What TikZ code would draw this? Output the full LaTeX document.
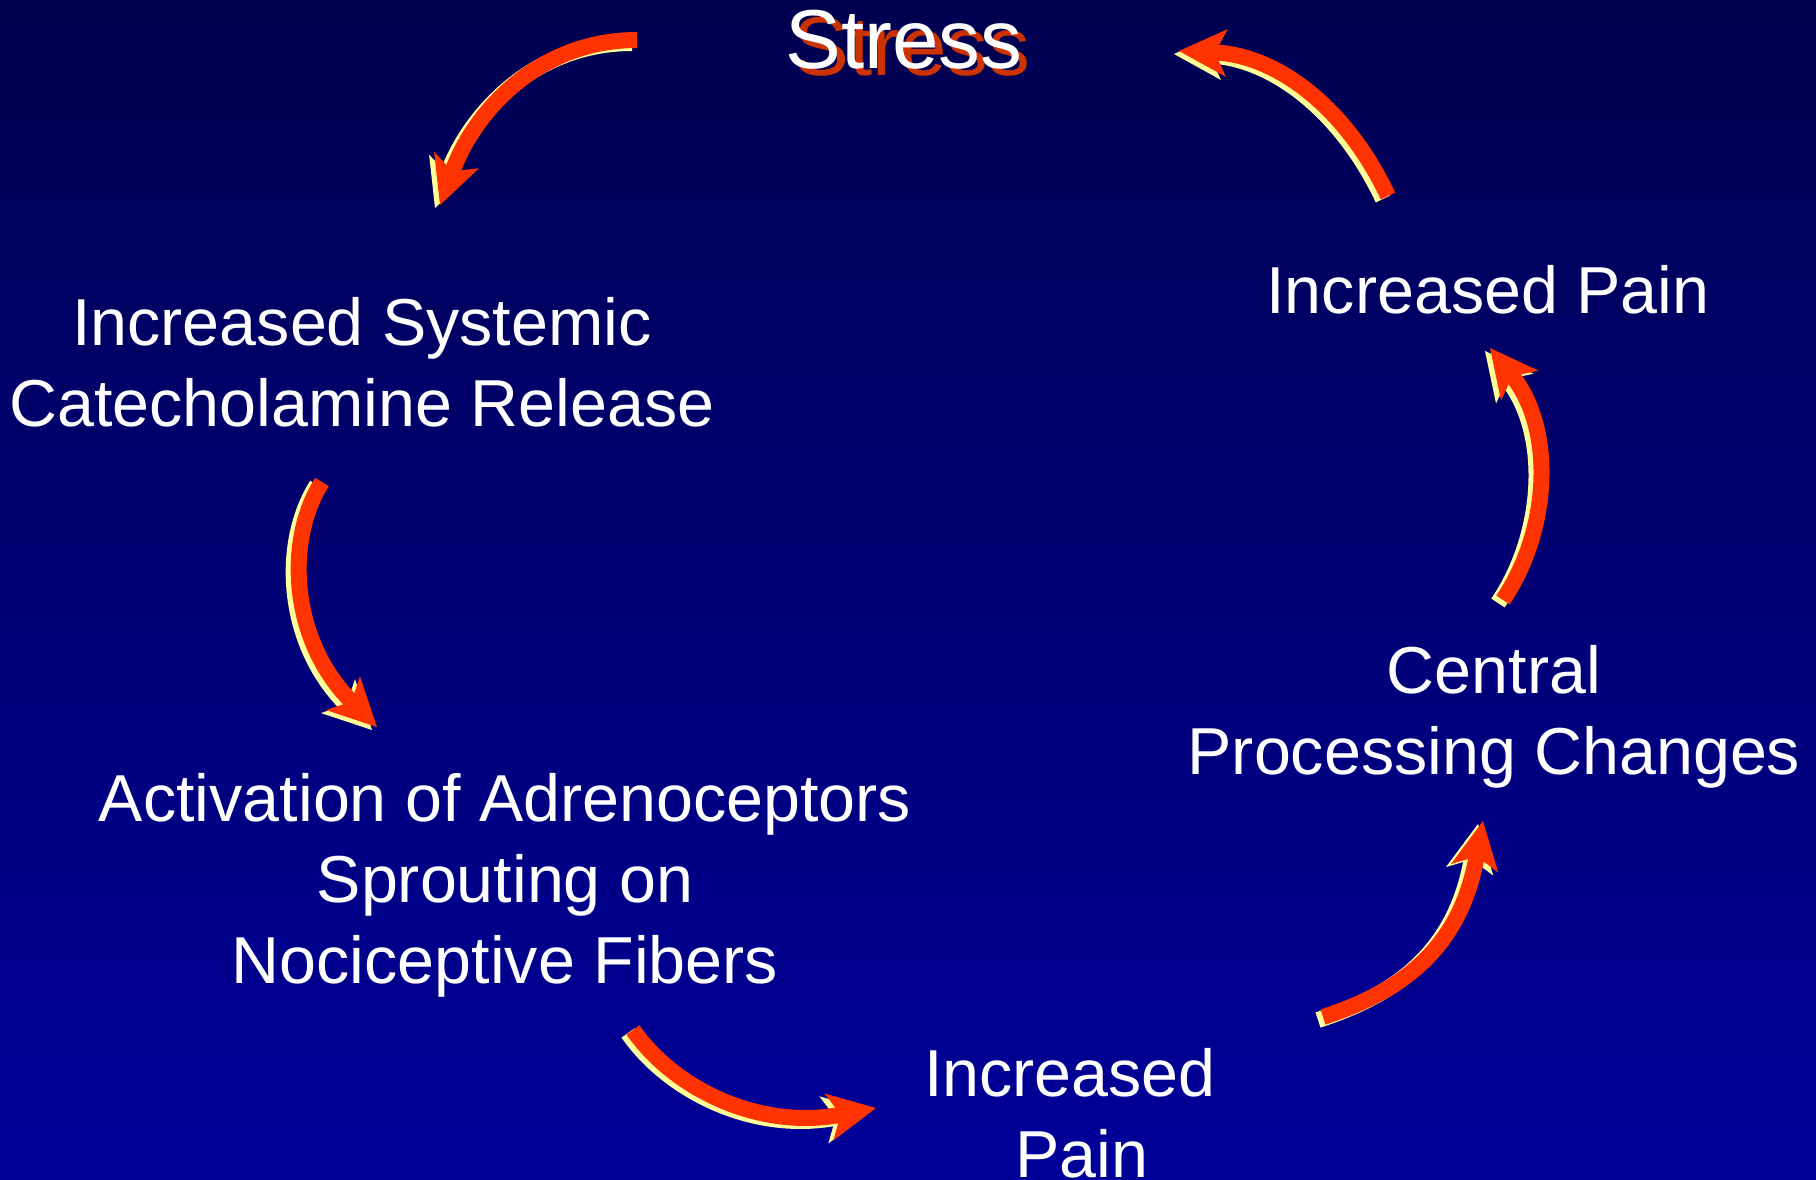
\documentclass[tikz,border=0pt]{standalone}
\usepackage{fontspec}
\setmainfont{Liberation Sans}
\usetikzlibrary{arrows.meta}
\definecolor{bgtop}{RGB}{0,0,80}
\definecolor{bgbot}{RGB}{0,0,153}
\definecolor{arrowred}{RGB}{255,51,0}
\definecolor{arrowshadow}{RGB}{255,255,153}
\definecolor{stressred}{RGB}{204,51,0}
\begin{document}
\begin{tikzpicture}[x=0.5pt,y=-0.5pt,
  lbl/.style={text=white,font=\fontsize{33.2}{40.5}\selectfont,align=center,inner sep=0pt},
  titlefont/.style={font=\fontsize{41.8}{50}\selectfont,inner sep=0pt,anchor=base},
  tipshape/.style={-{Stealth[length=24pt,width=24pt,inset=6pt,line width=0pt]}},
  cyclearrow/.style={draw=arrowred,line width=8pt,tipshape},
  cycleshadow/.style={draw=arrowshadow,line width=8pt,tipshape,
     transform canvas={xshift=-2.5pt,yshift=-1.5pt}}
]
\useasboundingbox (0,0) rectangle (1816,1179);
\shade[top color=bgtop,bottom color=bgbot] (0,0) rectangle (1816,1179);

% texts
\node[titlefont,text=stressred] (stressshadow) at (912,75) {Stress};
\node[titlefont,text=white] (stress) at (904,68) {Stress};
\node[lbl] (sys) at (362,362) {Increased Systemic\\Catecholamine Release};
\node[lbl] (act) at (505,885) {Activation of Adrenoceptors\\Sprouting on\\Nociceptive Fibers};
\node[lbl] (painb) at (1082,1113) {Increased\hspace*{12pt}\\Pain};
\node[lbl] (cen) at (1494,717) {Central\\Processing Changes};
\node[lbl,anchor=base] (painr) at (1488,313) {Increased Pain};

% arrow end points and controls
\coordinate (a1s) at (637,40);   \coordinate (a1c) at (540,40);   \coordinate (a1d) at (475,110);  \coordinate (a1e) at (440,205);
\coordinate (a3s) at (322,482);  \coordinate (a3c) at (285,540);  \coordinate (a3d) at (290,640);  \coordinate (a3e) at (377,727);
\coordinate (a4s) at (633,1030); \coordinate (a4c) at (675,1090); \coordinate (a4d) at (760,1130); \coordinate (a4e) at (876,1108);
\coordinate (a5s) at (1323,1017);\coordinate (a5c) at (1400,992); \coordinate (a5d) at (1460,950); \coordinate (a5e) at (1483,821);
\coordinate (a6s) at (1503,600); \coordinate (a6c) at (1550,530); \coordinate (a6d) at (1555,430); \coordinate (a6e) at (1490,348);
\coordinate (a2s) at (1388,196); \coordinate (a2c) at (1345,105); \coordinate (a2d) at (1275,55);  \coordinate (a2e) at (1179,51);

% shadows
\foreach \a in {a1,a2,a3,a4,a5,a6}{
  \draw[cycleshadow] (\a s) .. controls (\a c) and (\a d) .. (\a e);
}
% arrows
\foreach \a in {a1,a2,a3,a4,a5,a6}{
  \draw[cyclearrow] (\a s) .. controls (\a c) and (\a d) .. (\a e);
}
\end{tikzpicture}
\end{document}
